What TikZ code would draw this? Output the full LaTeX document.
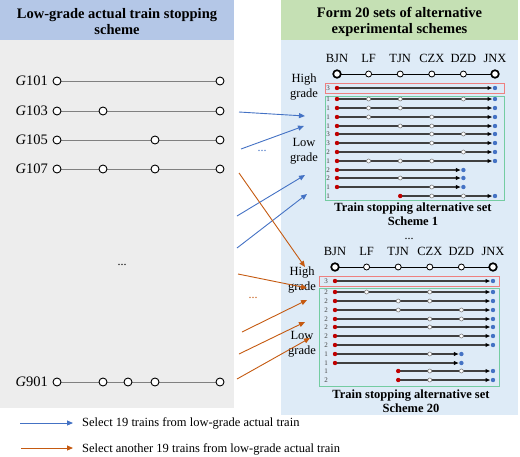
\documentclass[tikz,border=0pt]{standalone}
\usepackage{fontspec}
\setmainfont{Liberation Serif}
\usetikzlibrary{arrows.meta}
\definecolor{hdrblue}{HTML}{B4C7E7}
\definecolor{bodygray}{HTML}{EDEDED}
\definecolor{hdrgreen}{HTML}{C5E0B4}
\definecolor{bodyblue}{HTML}{DEEBF7}
\definecolor{arrblue}{HTML}{4472C4}
\definecolor{arrorange}{HTML}{C55A11}
\definecolor{boxred}{HTML}{EE8080}
\definecolor{boxgreen}{HTML}{74CCA2}
\definecolor{dotred}{HTML}{C00000}
\definecolor{dotblue}{HTML}{4472C4}
\definecolor{linegray}{HTML}{404040}
\tikzset{
  hdr/.style={align=center,font=\fontsize{14.5}{16}\selectfont\bfseries,inner sep=0pt},
  ttl/.style={align=center,font=\fontsize{12.5}{14}\selectfont\bfseries,inner sep=0pt},
  stlab/.style={font=\fontsize{12.5}{14}\selectfont,inner sep=0pt},
  grade/.style={align=center,font=\fontsize{12.5}{15}\selectfont,inner sep=0pt},
  numlab/.style={font=\fontsize{7}{7}\selectfont,text=linegray,inner sep=0pt},
  trainlab/.style={anchor=east,font=\fontsize{14.5}{16}\selectfont,inner sep=0pt},
  legtext/.style={anchor=west,font=\fontsize{12.5}{14}\selectfont,inner sep=0pt},
  dots/.style={font=\fontsize{12}{14}\selectfont,inner sep=0pt},
  leftline/.style={draw=gray,line width=0.9pt},
  leftstop/.style={draw=black,fill=white,line width=0.9pt},
  rowline/.style={draw=linegray,line width=1.1pt,-{Latex[length=5pt,width=4.5pt,color=black]}},
  minorstop/.style={draw=gray,fill=white,line width=0.6pt},
  endstation/.style={draw=black,fill=white,line width=1.7pt},
  midstation/.style={draw=black,fill=white,line width=0.8pt},
  bluearrow/.style={draw=arrblue,line width=0.9pt,-{Triangle[length=6pt,width=5pt]}},
  orangearrow/.style={draw=arrorange,line width=0.9pt,-{Triangle[length=6pt,width=5pt]}},
  redbox/.style={draw=boxred,line width=0.9pt},
  greenbox/.style={draw=boxgreen,line width=0.9pt},
}
\newcommand\trow[6]{%
  \node[numlab] (#1n#2) at (328,#2) {#3};
  \draw[rowline] (337+31.6*#4,#2) -- (337+31.6*#5-2.5,#2);
  \foreach \k in {#6}{\ifnum\k<6 \draw[minorstop] (337+31.6*\k,#2) circle[radius=2pt];\fi}
  \fill[dotred] (337+31.6*#4,#2) circle[radius=2.2pt];
  \fill[dotblue] (337+31.6*#5,#2) circle[radius=2.2pt];
}
\newcommand\leftrow[3]{%
  \node[trainlab] (t#1) at (48,#2) {\textit{G}#1};
  \draw[leftline] (57,#2) -- (220,#2);
  \foreach \xx in {#3} \draw[leftstop] (\xx,#2) circle[radius=4pt];
}
\newcommand\stations[1]{%
  \foreach \i/\nm in {0/BJN,1/LF,2/TJN,3/CZX,4/DZD,5/JNX}
    \node[stlab] (#1lab\i) at (337+31.6*\i,58) {\nm};
  \draw[black,line width=1pt] (337,74) -- (495,74);
  \foreach \i in {1,2,3,4} \draw[midstation] (337+31.6*\i,74) circle[radius=3pt];
  \draw[endstation] (337,74) circle[radius=3.8pt];
  \draw[endstation] (495,74) circle[radius=3.8pt];
  \node[grade] (#1high) at (304,87) {High\\grade};
  \node[grade] (#1low) at (304,151) {Low\\grade};
}
\begin{document}
\begin{tikzpicture}[x=1pt,y=-1pt]
\useasboundingbox (0,0) rectangle (520,456);
% left panel
\fill[hdrblue] (0,0) rectangle (234,40);
\fill[bodygray] (0,40) rectangle (234,408);
\node[hdr] (lefthdr) at (117,22) {Low-grade actual train stopping\\scheme};
\leftrow{101}{81}{57,220}
\leftrow{103}{111}{57,103,220}
\leftrow{105}{140}{57,155,220}
\leftrow{107}{169}{57,103,155,220}
\leftrow{901}{382}{57,103,128,155,220}
\node[dots] (leftdots) at (122,265) {...};
% right panel
\fill[hdrgreen] (281,0) rectangle (518,40);
\fill[bodyblue] (281,40) rectangle (518,415);
\node[hdr] (righthdr) at (399.5,22) {Form 20 sets of alternative\\experimental schemes};
% scheme 1
\draw[redbox] (325,83) rectangle (504,93);
\draw[greenbox] (325,96) rectangle (504,200);
\stations{a}
\trow{a}{88}{3}{0}{5}{9}
\trow{a}{99}{1}{0}{5}{1,2,4}
\trow{a}{108}{1}{0}{5}{1,2}
\trow{a}{117}{1}{0}{5}{1,3}
\trow{a}{126}{1}{0}{5}{2,3}
\trow{a}{134}{3}{0}{5}{3,4}
\trow{a}{143}{3}{0}{5}{3}
\trow{a}{152}{2}{0}{5}{4}
\trow{a}{161}{1}{0}{5}{1,2,3}
\trow{a}{170}{2}{0}{4}{9}
\trow{a}{178}{2}{0}{4}{2}
\trow{a}{187}{1}{0}{4}{3}
\trow{a}{196}{1}{2}{5}{3,4}
\node[ttl] (atitle) at (413,214.5) {Train stopping alternative set\\Scheme 1};
\node[dots] (middots) at (409,239) {...};
% scheme 20
\draw[redbox] (319,276) rectangle (499,286);
\draw[greenbox] (319,288) rectangle (499,386);
\begin{scope}[shift={(-2,193)}]
\stations{b}
\trow{b}{88}{3}{0}{5}{9}
\trow{b}{99}{2}{0}{5}{1,3}
\trow{b}{108}{2}{0}{5}{2,3}
\trow{b}{117}{2}{0}{5}{2,4}
\trow{b}{126}{2}{0}{5}{3,4}
\trow{b}{134}{2}{0}{5}{3}
\trow{b}{143}{2}{0}{5}{4}
\trow{b}{152}{2}{0}{5}{9}
\trow{b}{161}{1}{0}{4}{3}
\trow{b}{170}{1}{0}{4}{9}
\trow{b}{178}{1}{2}{5}{3,4}
\trow{b}{187}{2}{2}{5}{3}
\node[ttl] (btitle) at (413,208) {Train stopping alternative set\\Scheme 20};
\end{scope}
% connectors
\coordinate (b1s) at (239,112); \coordinate (b1e) at (305,116);
\coordinate (b2s) at (241,149); \coordinate (b2e) at (304,126);
\coordinate (b3s) at (237,216); \coordinate (b3e) at (305,175);
\coordinate (b4s) at (237,248); \coordinate (b4e) at (307,194);
\coordinate (o1s) at (239,173); \coordinate (o1e) at (305,267);
\coordinate (o2s) at (238,274); \coordinate (o2e) at (307,288);
\coordinate (o3s) at (242,332); \coordinate (o3e) at (307,300);
\coordinate (o4s) at (239,354); \coordinate (o4e) at (305,322);
\coordinate (o5s) at (237,379); \coordinate (o5e) at (310,338);
\foreach \n in {1,2,3,4} \draw[bluearrow] (b\n s) -- (b\n e);
\foreach \n in {1,2,3,4,5} \draw[orangearrow] (o\n s) -- (o\n e);
\node[dots,text=arrblue] (bluedots) at (262,151) {...};
\node[dots,text=arrorange] (orangedots) at (253,298) {...};
% legend
\coordinate (lbs) at (20,423); \coordinate (lbe) at (73,423);
\coordinate (los) at (21,448); \coordinate (loe) at (73,448);
\draw[bluearrow] (lbs) -- (lbe);
\draw[orangearrow] (los) -- (loe);
\node[legtext] (legblue) at (82,423) {Select 19 trains from low-grade actual train};
\node[legtext] (legorange) at (82,449) {Select another 19 trains from low-grade actual train};
\end{tikzpicture}
\end{document}
